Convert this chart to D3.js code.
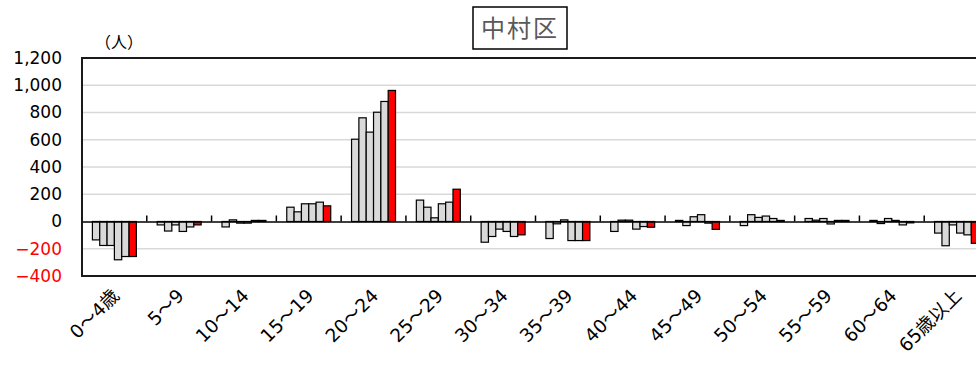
<!DOCTYPE html>
<html><head><meta charset="utf-8">
<script src="https://cdn.jsdelivr.net/npm/d3@7"></script>
<style>body{margin:0;background:#fff;} svg{display:block;}</style>
</head><body>
<div id="chart"></div>
<script>
const categories = ["0～4歳","5～9","10～14","15～19","20～24","25～29","30～34","35～39","40～44","45～49","50～54","55～59","60～64","65歳以上"];
const seriesKeys = ["s1","s2","s3","s4","s5","s6"];
const s1 = [-135, -25, -40, 105, 604, 157, -152, -125, -73, 8, -30, 22, 8, -85];
const s2 = [-176, -70, 12, 71, 761, 105, -110, -17, 10, -30, 50, 10, -15, -178];
const s3 = [-176, -25, -12, 130, 656, 27, -56, 12, 10, 35, 30, 22, 22, -25];
const s4 = [-281, -73, -12, 130, 802, 130, -73, -140, -56, 50, 40, -18, 8, -85];
const s5 = [-257, -40, 8, 142, 881, 142, -110, -140, -37, -12, 22, 8, -25, -98];
const s6 = [-257, -25, 8, 115, 962, 237, -98, -140, -42, -58, 8, 8, -10, -160];
const seriesValues = [s1, s2, s3, s4, s5, s6];
const yTicks = [-400, -200, 0, 200, 400, 600, 800, 1000, 1200];
const titleText = "中村区";
const unitText = "（人）";

(function () {
const W = 976, H = 374;
const svg = d3.select("#chart").append("svg").attr("width", W).attr("height", H);
const pL = 82, pR = 989, pT = 58, pB = 276;

const x = d3.scaleBand().domain(categories).range([pL, pR]).paddingInner(0).paddingOuter(0);
const xs = d3.scaleBand().domain(seriesKeys).range([0, x.bandwidth()]).paddingInner(0).paddingOuter(1.42);
const y = d3.scaleLinear().domain([-400, 1200]).range([pB, pT]);

svg.append("g").selectAll("line").data(yTicks.filter(t => t !== 0 && t !== 1200 && t !== -400))
  .join("line")
  .attr("x1", pL).attr("x2", pR)
  .attr("y1", d => y(d)).attr("y2", d => y(d))
  .attr("stroke", "#d9d9d9").attr("stroke-width", 1.5);

const fonts = "'DejaVu Sans','Noto Sans CJK JP',sans-serif";
const gBars = svg.append("g");
seriesValues.forEach((vals, si) => {
  gBars.append("g").selectAll("rect").data(vals.map((v, i) => ({cat: categories[i], v})))
    .join("rect")
    .attr("x", d => x(d.cat) + xs(seriesKeys[si]))
    .attr("width", xs.bandwidth())
    .attr("y", d => y(Math.max(0, d.v)))
    .attr("height", d => Math.abs(y(d.v) - y(0)))
    .attr("fill", si === 5 ? "#ff0000" : "#d9d9d9")
    .attr("stroke", "#000").attr("stroke-width", 1.2);
});

const xAxis = d3.axisBottom(x).tickSize(0).tickFormat("");
const gx = svg.append("g").attr("transform", `translate(0,${y(0)})`).call(xAxis);
gx.select(".domain").attr("stroke", "#000").attr("stroke-width", 1.5);
svg.append("g").selectAll("line").data(categories)
  .join("line")
  .attr("x1", d => x(d)).attr("x2", d => x(d))
  .attr("y1", y(0) - 6).attr("y2", y(0))
  .attr("stroke", "#000").attr("stroke-width", 1.5);

svg.append("rect").attr("x", pL).attr("y", pT).attr("width", pR - pL).attr("height", pB - pT)
  .attr("fill", "none").attr("stroke", "#1a1a1a").attr("stroke-width", 2);

const yAxis = d3.axisLeft(y).tickValues(yTicks).tickSize(0).tickPadding(0)
  .tickFormat(d3.format(","));
const gy = svg.append("g").attr("transform", `translate(62,0)`).call(yAxis);
gy.select(".domain").remove();
gy.selectAll("text").attr("font-family", fonts).attr("font-size", 17)
  .attr("fill", d => d < 0 ? "#ff0000" : "#000");

svg.append("g").selectAll("text").data(categories)
  .join("text")
  .attr("transform", d => `translate(${x(d) + x.bandwidth()/2 + 6},${pB + 21}) rotate(-45)`)
  .attr("text-anchor", "end")
  .attr("font-family", fonts).attr("font-size", 18.5)
  .attr("fill", "#000")
  .text(d => d);

svg.append("text").attr("x", 95).attr("y", 48).attr("font-family", fonts).attr("font-size", 16).text(unitText);

svg.append("rect").attr("x", 473).attr("y", 7).attr("width", 94).attr("height", 42)
  .attr("fill", "#fff").attr("stroke", "#000").attr("stroke-width", 1.5);
svg.append("text").attr("x", 520).attr("y", 37).attr("text-anchor", "middle")
  .attr("font-family", "'Noto Sans CJK JP',sans-serif").attr("font-size", 24)
  .attr("letter-spacing", 2).attr("fill", "#595959").text(titleText);
})();
</script>
</body></html>
